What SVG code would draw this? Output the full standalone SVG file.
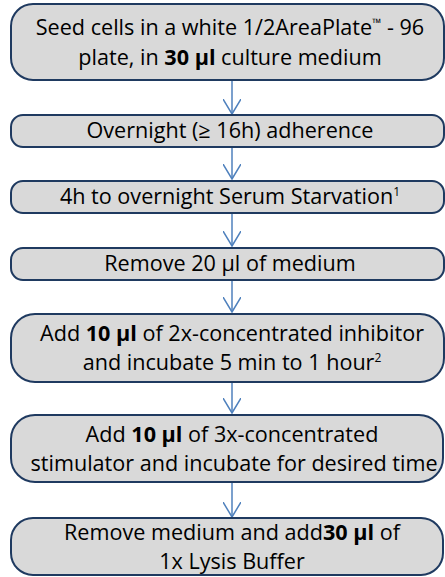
<svg xmlns="http://www.w3.org/2000/svg" width="445" height="577" viewBox="0 0 445 577">
<defs>
<style>
.box{fill:#d9d9d9;stroke:#1f3a60;stroke-width:2}
.t{font-family:"Open Sans",Lato,"Liberation Sans",sans-serif;font-size:21.6px;fill:#000;text-anchor:middle}
.b{font-weight:bold}
.sup{font-size:12px}
.c{stroke:#4f81bd;stroke-width:1.5;fill:none}
</style>
<marker id="ah" markerWidth="20" markerHeight="18" refX="15" refY="9" orient="auto" markerUnits="userSpaceOnUse">
<path d="M0,0 L15,9 L0,18" fill="none" stroke="#4f81bd" stroke-width="1.5"/>
</marker>
</defs>
<rect width="445" height="577" fill="#fff"/>
<g id="connectors">
<line class="c" x1="232" y1="81" x2="232" y2="114" marker-end="url(#ah)"/>
<line class="c" x1="232" y1="148" x2="232" y2="179" marker-end="url(#ah)"/>
<line class="c" x1="232" y1="214" x2="232" y2="246" marker-end="url(#ah)"/>
<line class="c" x1="232" y1="281" x2="232" y2="312" marker-end="url(#ah)"/>
<line class="c" x1="232" y1="383" x2="232" y2="413" marker-end="url(#ah)"/>
<line class="c" x1="232" y1="483" x2="232" y2="517" marker-end="url(#ah)"/>
</g>
<g id="n1">
<rect class="box" x="11" y="4" width="433" height="76" rx="22"/>
<text class="t" x="230" y="35">Seed cells in a white 1/2AreaPlate<tspan class="sup" dy="-8">™</tspan><tspan dy="8"> - 96</tspan></text>
<text class="t" x="230" y="65">plate, in <tspan class="b">30 µl</tspan> culture medium</text>
</g>
<g id="n2">
<rect class="box" x="11" y="115" width="433" height="32" rx="12"/>
<text class="t" x="230" y="138">Overnight (≥ 16h) adherence</text>
</g>
<g id="n3">
<rect class="box" x="11" y="181" width="433" height="32" rx="12"/>
<text class="t" x="230" y="204">4h to overnight Serum Starvation<tspan class="sup" dy="-8">1</tspan></text>
</g>
<g id="n4">
<rect class="box" x="11" y="248" width="433" height="32" rx="12"/>
<text class="t" x="230" y="271">Remove 20 µl of medium</text>
</g>
<g id="n5">
<rect class="box" x="11" y="314" width="433" height="68" rx="24"/>
<text class="t" x="232" y="341">Add <tspan class="b">10 µl</tspan> of 2x-concentrated inhibitor</text>
<text class="t" x="232" y="370">and incubate 5 min to 1 hour<tspan class="sup" dy="-8">2</tspan></text>
</g>
<g id="n6">
<rect class="box" x="11" y="415" width="432" height="67" rx="24"/>
<text class="t" x="232" y="442">Add  <tspan class="b">10 µl</tspan>  of 3x-concentrated</text>
<text class="t" x="234" y="471">stimulator and incubate for desired time</text>
</g>
<g id="n7">
<rect class="box" x="11" y="518" width="432" height="57" rx="22"/>
<text class="t" x="232" y="540">Remove medium and add<tspan class="b">30 µl</tspan> of</text>
<text class="t" x="232" y="569">1x Lysis Buffer</text>
</g>
</svg>
